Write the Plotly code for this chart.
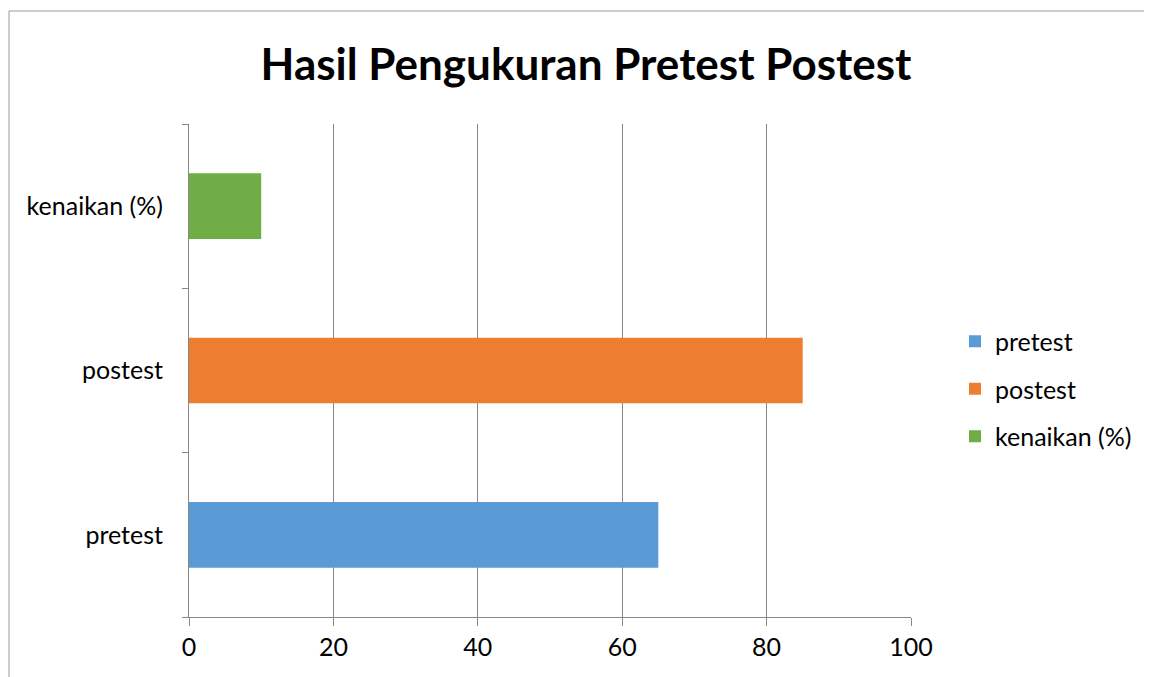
import plotly.graph_objects as go

categories = ["pretest", "postest", "kenaikan (%)"]
values = [65, 85, 10]
colors = ["#5B9BD5", "#ED7D31", "#70AD47"]
x_ticks = [0, 20, 40, 60, 80, 100]

# the page puts the figure 8px in from the top-left corner
OFF = 8
W, H = 1152, 677
L, T = 189 - OFF, 124 - OFF
R = W - (911 - OFF)
B = H - (617 - OFF)
pw, ph = W - L - R, H - T - B


def px(xs):
    return (xs - OFF - L) / pw


def py(ys):
    return (H - B - (ys - OFF)) / ph


fig = go.Figure()
for i, (cat, val, col) in enumerate(zip(categories, values, colors)):
    fig.add_trace(go.Bar(
        x=[val], y=[cat], name=cat, orientation="h", legendgroup=f"g{i}",
        marker=dict(color=col, line=dict(width=0)), width=0.4,
    ))

font = "Lato, 'Open Sans', sans-serif"
border = dict(color="#9a9a9a", width=1)
fig.update_layout(
    width=W, height=H,
    margin=dict(l=L, r=R, t=T, b=B),
    paper_bgcolor="white", plot_bgcolor="white",
    barmode="overlay",
    font=dict(family=font, size=25, color="#000000"),
    title=dict(text="<b>Hasil Pengukuran Pretest Postest</b>", x=(586 - OFF) / W, xanchor="center",
               y=1 - (65 - OFF) / H, yanchor="middle", font=dict(size=44, family=font, color="#000000")),
    showlegend=True,
    legend=dict(x=px(955), y=py(389), xanchor="left", yanchor="middle",
                traceorder="grouped", font=dict(size=25), itemwidth=30, tracegroupgap=12,
                bgcolor="rgba(0,0,0,0)"),
    xaxis=dict(range=[0, 100], tickvals=x_ticks, showgrid=True, gridcolor="#888888", gridwidth=1,
               showline=True, linecolor="#888888", linewidth=1, ticks="outside", ticklen=8,
               tickcolor="#888888", zeroline=False, tickfont=dict(size=25)),
    yaxis=dict(categoryorder="array", categoryarray=categories, showgrid=False,
               showline=True, linecolor="#888888", linewidth=1, ticks="outside", ticklen=6,
               tickcolor="#888888", tickson="boundaries", ticklabelstandoff=20,
               tickfont=dict(size=25)),
    shapes=[
        dict(type="line", xref="paper", yref="paper", x0=px(9), x1=px(W + 60),
             y0=py(11), y1=py(11), line=border, layer="below"),
        dict(type="line", xref="paper", yref="paper", x0=px(9), x1=px(9),
             y0=py(11), y1=py(H + 60), line=border, layer="below"),
    ],
)

fig.write_html("out.html")
